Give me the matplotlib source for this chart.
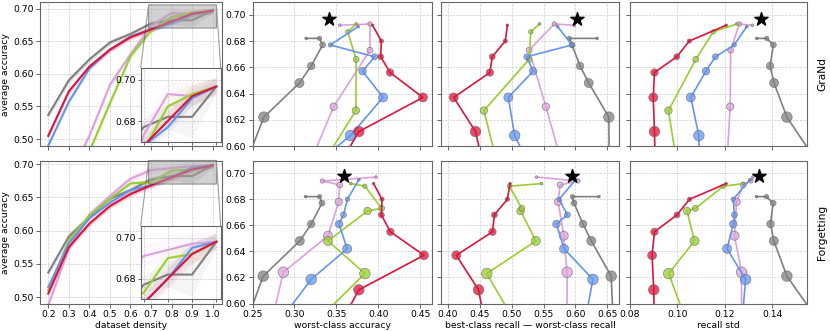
import matplotlib
matplotlib.use('Agg')
import matplotlib.pyplot as plt
import numpy as np

plt.rcParams['font.size'] = 6.7

# densities 0.2 ... 1.0 (1.0 = full dataset)
density = [0.2, 0.3, 0.4, 0.5, 0.6, 0.7, 0.8, 0.9, 1.0]
order = ['gray', 'pink', 'green', 'blue', 'red']
colors = {'gray': 'gray', 'blue': 'cornflowerblue', 'red': 'crimson',
          'green': 'yellowgreen', 'pink': 'plum'}

# ---------------- GraNd (top row) ----------------
grand_acc = {
    'gray':  [0.537, 0.590, 0.622, 0.648, 0.661, 0.677, 0.682, 0.682, 0.6967],
    'blue':  [0.490, 0.557, 0.608, 0.637, 0.657, 0.668, 0.677, 0.691, 0.6967],
    'red':   [0.505, 0.573, 0.611, 0.637, 0.656, 0.668, 0.680, 0.692, 0.6967],
    'green': [0.350, 0.420, 0.481, 0.555, 0.627, 0.666, 0.687, 0.693, 0.6967],
    'pink':  [0.380, 0.440, 0.505, 0.583, 0.630, 0.673, 0.693, 0.692, 0.6967],
}
grand_std = {
    'gray':  [0.004, 0.005, 0.004, 0.004, 0.004, 0.004, 0.006, 0.010, 0.004],
    'blue':  [0.003, 0.003, 0.003, 0.003, 0.003, 0.003, 0.004, 0.004, 0.003],
    'red':   [0.004, 0.004, 0.004, 0.004, 0.004, 0.004, 0.004, 0.005, 0.004],
    'green': [0.005, 0.005, 0.005, 0.005, 0.005, 0.004, 0.005, 0.005, 0.004],
    'pink':  [0.005, 0.005, 0.005, 0.005, 0.005, 0.005, 0.006, 0.006, 0.004],
}
grand_worst = {
    'gray':  [0.230, 0.244, 0.2636, 0.306, 0.320, 0.3336, 0.330, 0.314],
    'blue':  [0.220, 0.270, 0.3668, 0.4056, 0.3812, 0.3956, 0.3428, 0.376],
    'red':   [0.300, 0.342, 0.3768, 0.4532, 0.4140, 0.4028, 0.4036, 0.3932],
    'green': [0.250, 0.270, 0.290, 0.303, 0.3732, 0.3736, 0.3636, 0.3736],
    'pink':  [0.260, 0.280, 0.300, 0.316, 0.3468, 0.390, 0.390, 0.354],
}
grand_gap = {
    'gray':  [0.660, 0.653, 0.6526, 0.621, 0.6074, 0.5947, 0.5905, 0.6342],
    'blue':  [0.580, 0.556, 0.5047, 0.4947, 0.5337, 0.5237, 0.5947, 0.5721],
    'red':   [0.480, 0.461, 0.4432, 0.4089, 0.4658, 0.4695, 0.4900, 0.4932],
    'green': [0.500, 0.500, 0.500, 0.494, 0.4563, 0.5274, 0.5300, 0.5437],
    'pink':  [0.590, 0.585, 0.583, 0.581, 0.5537, 0.5274, 0.5668, 0.5984],
}
grand_rstd = {
    'gray':  [0.160, 0.158, 0.1461, 0.1407, 0.1390, 0.1404, 0.1376, 0.1334],
    'blue':  [0.110, 0.1095, 0.1090, 0.1056, 0.1120, 0.1160, 0.1239, 0.1292],
    'red':   [0.091, 0.0908, 0.0903, 0.0898, 0.0903, 0.0997, 0.1050, 0.1205],
    'green': [0.102, 0.102, 0.1025, 0.1025, 0.0962, 0.1077, 0.1151, 0.1250],
    'pink':  [0.120, 0.1207, 0.1207, 0.1207, 0.1222, 0.1224, 0.1261, 0.1316],
}
grand_star = [0.3408, 0.6021, 0.1352]

# ---------------- Forgetting (bottom row) ----------------
forget_acc = {
    'gray':  [0.537, 0.591, 0.621, 0.648, 0.661, 0.677, 0.682, 0.682, 0.698],
    'blue':  [0.515, 0.581, 0.6185, 0.642, 0.661, 0.668, 0.680, 0.695, 0.698],
    'red':   [0.5055, 0.575, 0.6105, 0.637, 0.655, 0.668, 0.680, 0.692, 0.698],
    'green': [0.5105, 0.585, 0.623, 0.648, 0.671, 0.673, 0.690, 0.692, 0.698],
    'pink':  [0.488, 0.573, 0.624, 0.652, 0.678, 0.691, 0.694, 0.697, 0.698],
}
forget_std = {
    'gray':  [0.004, 0.005, 0.004, 0.004, 0.004, 0.004, 0.006, 0.011, 0.004],
    'blue':  [0.003, 0.003, 0.003, 0.003, 0.003, 0.003, 0.004, 0.004, 0.003],
    'red':   [0.004, 0.004, 0.004, 0.004, 0.004, 0.004, 0.005, 0.005, 0.004],
    'green': [0.004, 0.004, 0.004, 0.004, 0.004, 0.004, 0.005, 0.005, 0.004],
    'pink':  [0.005, 0.005, 0.005, 0.005, 0.005, 0.005, 0.005, 0.005, 0.004],
}
forget_worst = {
    'gray':  [0.230, 0.2457, 0.2628, 0.3064, 0.3200, 0.3328, 0.3300, 0.3132],
    'blue':  [0.240, 0.276, 0.3200, 0.3628, 0.3532, 0.3584, 0.3632, 0.3768],
    'red':   [0.320, 0.347, 0.3768, 0.4544, 0.4144, 0.4036, 0.4044, 0.3944],
    'green': [0.300, 0.324, 0.3840, 0.3400, 0.3872, 0.4040, 0.3840, 0.3672],
    'pink':  [0.250, 0.268, 0.2868, 0.3400, 0.3528, 0.3540, 0.3332, 0.3972],
}
forget_gap = {
    'gray':  [0.660, 0.659, 0.6562, 0.6250, 0.6120, 0.5979, 0.5953, 0.6370],
    'blue':  [0.600, 0.613, 0.6276, 0.5823, 0.5703, 0.5875, 0.5745, 0.6005],
    'red':   [0.470, 0.462, 0.4479, 0.4130, 0.4698, 0.4729, 0.4932, 0.4974],
    'green': [0.520, 0.506, 0.4609, 0.5380, 0.5140, 0.5160, 0.4964, 0.5469],
    'pink':  [0.590, 0.587, 0.5870, 0.5818, 0.5729, 0.5760, 0.6042, 0.5390],
}
forget_rstd = {
    'gray':  [0.160, 0.1577, 0.1461, 0.1406, 0.1392, 0.1403, 0.1375, 0.1333],
    'blue':  [0.127, 0.127, 0.1287, 0.1209, 0.1235, 0.1240, 0.1235, 0.1305],
    'red':   [0.0905, 0.0903, 0.0900, 0.0893, 0.0903, 0.0998, 0.1051, 0.1205],
    'green': [0.103, 0.104, 0.0963, 0.1072, 0.1040, 0.1075, 0.1193, 0.1277],
    'pink':  [0.127, 0.127, 0.1270, 0.1240, 0.1249, 0.1277, 0.1310, 0.1318],
}
forget_star = [0.3592, 0.5948, 0.1343]

row_names = ['GraNd', 'Forgetting']
xlabels = ['dataset density', 'worst-class accuracy',
           'best-class recall \u2014 worst-class recall', 'recall std']

# ---------------- layout ----------------
W, H = 830, 331
fig = plt.figure(figsize=(W / 100, H / 100), dpi=100)
cols_px = [(40, 222), (252.5, 432), (441, 619.3), (630, 807.3)]
rows_px = [(2.3, 146), (160.8, 303.5)]
axes = [[fig.add_axes([l / W, 1 - b / H, (r - l) / W, (b - t) / H]) for (l, r) in cols_px]
        for (t, b) in rows_px]


def style(ax):
    ax.grid(True, ls='--', lw=0.5, color='0.8')
    ax.set_axisbelow(True)
    for s in ax.spines.values():
        s.set_color('0.4')
        s.set_linewidth(0.8)
    ax.tick_params(length=3, width=0.6, color='0.3', labelsize=6.7, pad=1.5)


sizes = [(0.72 * (1.2 + 15.6 * (1 - d))) ** 2 for d in density[:8]]

rows = [(grand_acc, grand_std, [grand_worst, grand_gap, grand_rstd], grand_star, (0.4895, 0.7095)),
        (forget_acc, forget_std, [forget_worst, forget_gap, forget_rstd], forget_star, (0.4905, 0.705))]
xlims = [(0.25, 0.464), (0.389, 0.669), (0.08, 0.1547)]
xticks = [[0.25, 0.30, 0.35, 0.40, 0.45], [0.40, 0.45, 0.50, 0.55, 0.60, 0.65], [0.08, 0.10, 0.12, 0.14]]

for r, (acc, sd, metrics, stars, ylim1) in enumerate(rows):
    # --- accuracy vs density with zoomed inset ---
    ax = axes[r][0]
    style(ax)
    axins = ax.inset_axes([0.553, 0.03, 0.44, 0.511])
    style(axins)
    for m in order:
        a = np.array(acc[m])
        s = np.array(sd[m])
        ax.fill_between(density, a - s, a + s, color=colors[m], alpha=0.2, lw=0)
        ax.plot(density, a, color=colors[m], lw=1.5)
        axins.fill_between(density, a - s, a + s, color=colors[m], alpha=0.08, lw=0)
        axins.plot(density, a, color=colors[m], lw=1.5)
    ax.set_xlim(0.16, 1.045)
    ax.set_ylim(*ylim1)
    ax.set_xticks(density)
    ax.set_yticks([0.50, 0.55, 0.60, 0.65, 0.70])
    ax.set_ylabel('average accuracy', labelpad=2)
    axins.set_xlim(0.688, 1.018)
    axins.set_ylim(0.670, 0.7055)
    axins.set_xticks([0.7, 0.8, 0.9, 1.0])
    axins.set_xticklabels([])
    axins.set_yticks([0.68, 0.70])
    axins.tick_params(length=2)
    ax.indicate_inset_zoom(axins, edgecolor='0.25', facecolor='0.65', alpha=0.5, lw=0.8)

    # --- metric vs accuracy panels ---
    for j in range(3):
        ax = axes[r][j + 1]
        style(ax)
        metric = metrics[j]
        for k, m in enumerate(order):
            y = acc[m][:8]
            ax.plot(metric[m], y, color=colors[m], lw=1.2, zorder=2 + k)
            ax.scatter(metric[m], y, s=sizes, color=colors[m], alpha=0.75,
                       edgecolors='0.4', linewidths=0.5, zorder=2 + k)
        ax.scatter([stars[j]], [acc['gray'][8]], marker='*', s=100, color='black', zorder=20)
        ax.set_xlim(*xlims[j])
        ax.set_ylim(0.60, 0.7095)
        ax.set_xticks(xticks[j])
        ax.set_yticks([0.60, 0.62, 0.64, 0.66, 0.68, 0.70])
        if j > 0:
            ax.tick_params(labelleft=False)
    axes[r][3].text(1.085, 0.5, row_names[r], transform=axes[r][3].transAxes,
                    rotation=90, va='center', ha='center', fontsize=7.7)

for j in range(4):
    axes[0][j].tick_params(labelbottom=False)
    axes[1][j].set_xlabel(xlabels[j], labelpad=1.5)

fig.savefig('out.png', dpi=100)
